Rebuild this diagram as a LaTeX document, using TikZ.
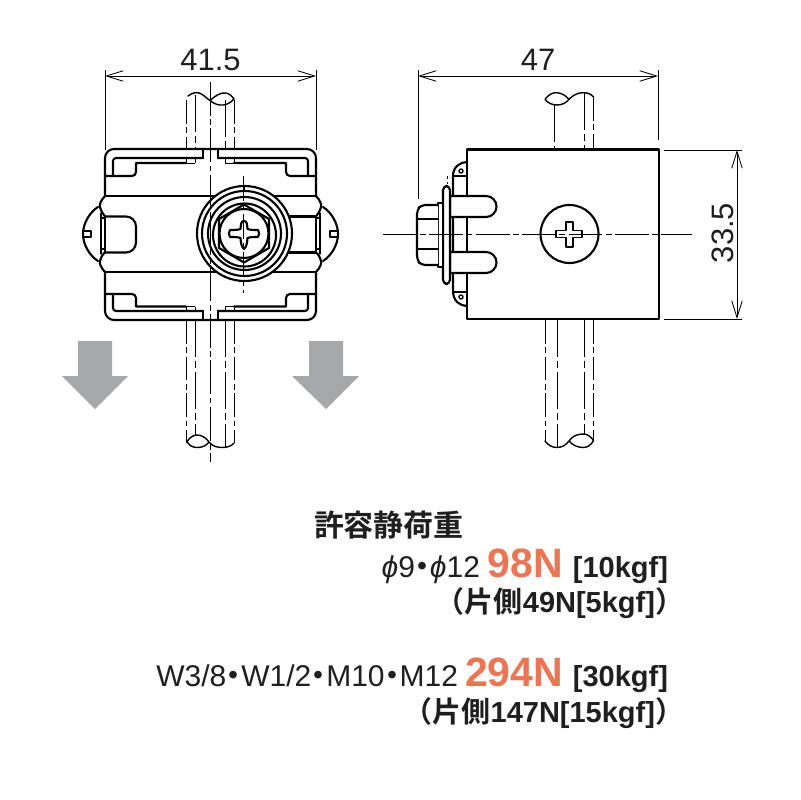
\documentclass[tikz,border=0pt]{standalone}
\usepackage{fontspec}
\setmainfont{Liberation Sans}
\newfontfamily\cjk{Noto Sans CJK JP}[BoldFont={Noto Sans CJK JP Bold}]
\usetikzlibrary{arrows.meta}
\definecolor{orangeload}{RGB}{234,118,84}
\definecolor{arrowgray}{RGB}{167,168,170}
\newcommand{\pxf}[1]{\fontsize{\dimexpr #1pt*711/1000\relax}{\dimexpr #1pt*711/1000\relax}\selectfont}
\newcommand{\nakaguro}{{\cjk\bfseries\kern-.25em ・\kern-.25em}}
\tikzset{
  heavy/.style={line width=1.5pt,line join=round,line cap=round},
  med/.style={line width=1pt,line join=round,line cap=round},
  thin line/.style={line width=0.7pt},
  dashdot/.style={line width=0.7pt,dash pattern=on 17pt off 2.5pt on 4pt off 2.5pt},
  centerline/.style={line width=0.6pt,dash pattern=on 24pt off 2.5pt on 4pt off 2.5pt},
  dim/.style={line width=0.6pt,{Straight Barb[length=12pt,width=7.5pt,line width=0.6pt]}-{Straight Barb[length=12pt,width=7.5pt,line width=0.6pt]}},
  ext/.style={line width=0.6pt},
  loadarrow/.style={fill=arrowgray,draw=none},
  txt/.style={inner sep=0pt,outer sep=0pt,text=black!88},
}
\begin{document}
\begin{tikzpicture}[x=0.025cm,y=-0.025cm]
\useasboundingbox (0,0) rectangle (800,800);
% ---- load arrows
\fill[loadarrow] (78,341)--(112,341)--(112,376)--(128,376)--(95,409)--(62,376)--(78,376)--cycle;
\fill[loadarrow] (309,341)--(343,341)--(343,376)--(359,376)--(326,409)--(292,376)--(309,376)--cycle;
% ---- left view: rod
\foreach \x in {186,234.7}{
  \draw[dashdot] (\x,100)--(\x,149);
  \draw[dashdot] (\x,320)--(\x,443);
}
\draw[thin line,dash pattern=on 26pt off 3pt on 5pt off 3pt] (195,95)--(195,149);
\draw[thin line,dash pattern=on 26pt off 3pt on 5pt off 3pt] (225,100)--(225,149);
\draw[thin line,dash pattern=on 26pt off 3pt on 5pt off 3pt] (195,320)--(195,436);
\draw[thin line,dash pattern=on 26pt off 3pt on 5pt off 3pt] (225,320)--(225,447);
\draw[med] (188,96) .. controls (192,93) and (196,92) .. (199,93) .. controls (203,94) and (206,98) .. (210,100.5) .. controls (214,97) and (220,92) .. (226,93) .. controls (229,93.5) and (232,96) .. (234,99) .. controls (230,104) and (224,105.5) .. (220,105) .. controls (216,104.5) and (213,103) .. (210,100.5);
\draw[med] (187,441.5) .. controls (190,437) and (194,435) .. (197,435) .. controls (202,435) and (206,438) .. (209,442) .. controls (206,446) and (202,447.5) .. (197,447.5) .. controls (192,447.5) and (189,445) .. (187,441.5);
\draw[med] (209,442) .. controls (212,446) and (217,447.5) .. (222,447.5) .. controls (227,447.5) and (232,446) .. (234,443);
% ---- left view: body
\draw[heavy] (105,196)--(105,158) arc[start angle=180,end angle=270,radius=9]--(307,149) arc[start angle=270,end angle=360,radius=9]--(316,196);
\draw[heavy] (105,272)--(105,311) arc[start angle=180,end angle=90,radius=9]--(307,320) arc[start angle=90,end angle=0,radius=9]--(316,272);
\draw[heavy] (113,176)--(113,161) arc[start angle=180,end angle=270,radius=3]--(203,158);
\draw[heavy] (218,158)--(305,158) arc[start angle=270,end angle=360,radius=3]--(308,176);
\draw[heavy] (113,294)--(113,308) arc[start angle=180,end angle=90,radius=3]--(203,311);
\draw[heavy] (218,311)--(305,311) arc[start angle=90,end angle=0,radius=3]--(308,294);
\draw[heavy] (203,149)--(203,158) (218,149)--(218,158) (203,311)--(203,320) (218,311)--(218,320);
\draw[heavy] (105,176)--(132,176) arc[start angle=90,end angle=0,radius=4]--(136,163)--(186,163);
\draw[heavy] (234,163)--(286,163)--(286,172) arc[start angle=180,end angle=90,radius=4]--(316,176);
\draw[heavy] (105,294)--(132,294) arc[start angle=-90,end angle=0,radius=4]--(136,306.5)--(186,306.5);
\draw[heavy] (234,306.5)--(286,306.5)--(286,298) arc[start angle=180,end angle=270,radius=4]--(316,294);
\draw[thin line] (186,163)--(195,163) (225,163)--(234,163) (186,306.5)--(195,306.5) (225,306.5)--(234,306.5);
\draw[thin line] (186,158)--(186,163) (195,158)--(195,163) (225,158)--(225,163) (234,158)--(234,163);
\draw[thin line] (186,306.5)--(186,311) (195,306.5)--(195,311) (225,306.5)--(225,311) (234,306.5)--(234,311);
% band
\draw[heavy] (105,196)--(316,196) (105,272)--(316,272);
\draw[heavy] (105,196) .. controls (101,200) and (99,205) .. (100,207) .. controls (101,211) and (103,214) .. (105,216.5);
\draw[heavy] (105,272) .. controls (101,268) and (99,263) .. (100,261) .. controls (101,257) and (103,254) .. (105,252.5);
\draw[heavy] (316,196) .. controls (320,200) and (322,205) .. (321,207) .. controls (320,211) and (318,214) .. (316,216.5);
\draw[heavy] (316,272) .. controls (320,268) and (322,263) .. (321,261) .. controls (320,257) and (318,254) .. (316,252.5);
% slots
\draw[heavy] (105,216.5)--(126,216.5) arc[start angle=270,end angle=360,radius=10]--(136,242.5) arc[start angle=0,end angle=90,radius=10]--(105,252.5);
\draw[heavy] (316,216.5)--(285,216.5) (316,252.5)--(285,252.5);
% side screw heads
\foreach \m/\s in {0/1,421/-1}{
  \begin{scope}[shift={(\m,0)},xscale=\s]
    \draw[heavy] (98,207) .. controls (90,212) and (83,223) .. (83,234) .. controls (83,245) and (90,256) .. (98,261);
    \draw[med] (101,213)--(101,254) (105,216)--(105,252);
    \draw[med] (101,218)--(105,218) (101,249)--(105,249);
    \draw[med] (84,231)--(91,231)--(91,237)--(84,237);
  \end{scope}
}
% washers and screw
\fill[white] (244.5,233.5) circle[radius=47.5];
\draw[heavy] (244.5,233.5) circle[radius=47.5];
\draw[heavy] (244,186) -- (244,191);
\draw[heavy] (244.5,233.5) circle[radius=42.5];
\draw[heavy] (244.5,233.5) circle[radius=36.5];
\draw[heavy] (244.5,235) circle[radius=31.5];
\draw[heavy] (244,204.5)--(269,219)--(269,248)--(244,262.5)--(219,248)--(219,219)--cycle;
\draw[heavy,fill=white] (244,233.5) circle[radius=24.5];
\draw[heavy,fill=white] (244,221) .. controls (247,221) and (247,224) .. (247.5,229) .. controls (250,230) and (254,230) .. (258,230) .. controls (259.5,232) and (259.5,235) .. (258,237) .. controls (254,237) and (250,237) .. (247.5,238) .. controls (247,243) and (247,246) .. (244,249) .. controls (241,246) and (241,243) .. (240.5,238) .. controls (238,237) and (234,237) .. (230,237) .. controls (228.5,235) and (228.5,232) .. (230,230) .. controls (234,230) and (238,230) .. (240.5,229) .. controls (241,224) and (241,221) .. (244,221) -- cycle;
\draw[centerline] (210,82)--(210,462);
\draw[line width=0.6pt,dash pattern=on 18pt off 2.5pt on 4pt off 2.5pt] (243.5,176)--(243.5,293);
% ---- right view: rod
\draw[thin line,dash pattern=on 26pt off 3pt on 5pt off 3pt] (554,105)--(554,149);
\draw[thin line,dash pattern=on 26pt off 3pt on 5pt off 3pt] (584,93)--(584,149);
\draw[dashdot] (593.5,97)--(593.5,149);
\draw[med] (545,99.3) .. controls (549,94) and (553,92.5) .. (557,92.7) .. controls (562,93) and (566,96) .. (569,99.3) .. controls (566,103) and (562,105) .. (557,105) .. controls (552,105) and (548,103) .. (545,99.3);
\draw[med] (569,99.3) .. controls (573,95) and (578,92.7) .. (583,92.7) .. controls (588,92.7) and (591,94) .. (593.5,97);
\draw[dashdot] (545,320)--(545,441);
\draw[thin line,dash pattern=on 26pt off 3pt on 5pt off 3pt] (557,320)--(557,447);
\draw[thin line,dash pattern=on 26pt off 3pt on 5pt off 3pt] (584,320)--(584,434);
\draw[dashdot] (593.5,320)--(593.5,440);
\draw[med] (545,441) .. controls (548,445) and (552,447.5) .. (557,447.5) .. controls (562,447.5) and (566,445) .. (569,441);
\draw[med] (569,441) .. controls (572,436) and (578,434) .. (583,434) .. controls (588,434) and (591,437) .. (593.5,440.5) .. controls (591,445) and (588,447.5) .. (583,447.5) .. controls (578,447.5) and (572,445) .. (569,441);
% ---- right view: body
\draw[heavy] (467,149.5) rectangle (659,319);
\draw[heavy] (467,162) .. controls (460,162) and (453,167) .. (453,176) -- (453,291) .. controls (453,301) and (460,306) .. (467,306);
\draw[heavy] (453,176)--(467,176) (453,292)--(467,292);
\draw[med] (461,171) circle[radius=2] (461,297) circle[radius=2];
\draw[heavy,fill=white] (450,196)--(486,196) arc[start angle=270,end angle=450,radius=10.5]--(450,217)--cycle;
\draw[heavy,fill=white] (450,252)--(486,252) arc[start angle=270,end angle=450,radius=10.5]--(450,273)--cycle;
\draw[heavy,fill=white,rounded corners=3pt] (443,186) rectangle (450,284);
\draw[heavy,fill=white] (438,203)--(443,203)--(443,267)--(438,267)--cycle;
\draw[heavy,fill=white,rounded corners=3pt] (438,205)--(421,205)--(417,210)--(417,260)--(421,265)--(438,265);
\draw[heavy] (418,219)--(438,219) (418,249)--(438,249);
\draw[heavy,fill=white] (569.5,234) circle[radius=29];
\draw[med,fill=white] (566,222)--(573,222)--(573,230.5)--(582,230.5)--(582,237.5)--(573,237.5)--(573,247)--(566,247)--(566,237.5)--(556,237.5)--(556,230.5)--(566,230.5)--cycle;
\draw[line width=0.6pt,dash pattern=on 2pt off 2pt] (447,176)--(447,186);
\draw[centerline] (383,234)--(692,234);
% ---- dimensions
\coordinate (la) at (105,76); \coordinate (lb) at (316,76);
\coordinate (ma) at (418,76); \coordinate (mb) at (658,76);
\coordinate (ra) at (737,150); \coordinate (rb) at (737,319);
\draw[dim] (la)--(lb);
\draw[dim] (ma)--(mb);
\draw[dim] (ra)--(rb);
\draw[ext] (105,70)--(105,150) (316,70)--(316,150);
\draw[ext] (418,70)--(418,199) (658,70)--(658,140);
\draw[ext] (664,150)--(742,150) (664,319)--(742,319);
\node[txt,anchor=base] (d1) at (210.5,71) {\pxf{31}41.5};
\node[txt,anchor=base] (d2) at (538,71) {\pxf{31}47};
\node[txt,anchor=base,rotate=90] (d3) at (733,233) {\pxf{31}33.5};
% ---- text
\node[txt,anchor=base west] (t0) at (314,536) {\cjk\bfseries\pxf{30}許容静荷重};
\node[txt,anchor=base east] (t1a) at (668,577) {\pxf{29}\bfseries[10kgf]};
\node[txt,anchor=base east,text=orangeload] (t1b) at (563,577) {\pxf{41}\bfseries 98N};
\node[txt,anchor=base east] (t1c) at (480,577) {\pxf{30}\textit{\char"03D5}9\nakaguro\textit{\char"03D5}12};
\node[txt,anchor=base east] (t2) at (684,612) {\bfseries\pxf{29}\cjk （片側\rmfamily 49N[5kgf]\cjk ）};
\node[txt,anchor=base east] (t3a) at (668,686) {\pxf{29}\bfseries[30kgf]};
\node[txt,anchor=base east,text=orangeload] (t3b) at (563,686) {\pxf{41}\bfseries 294N};
\node[txt,anchor=base east] (t3c) at (458,686) {\pxf{30}W3/8\nakaguro W1/2\nakaguro M10\nakaguro M12};
\node[txt,anchor=base east] (t4) at (684,722) {\bfseries\pxf{29}\cjk （片側\rmfamily 147N[15kgf]\cjk ）};
\end{tikzpicture}
\end{document}
